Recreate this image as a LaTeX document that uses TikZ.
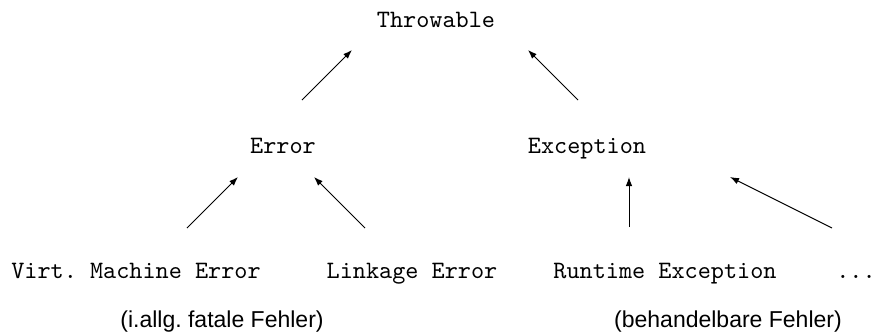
\documentclass[tikz,border=0pt]{standalone}
\usepackage{fontspec}
\newfontfamily\notefont{Liberation Sans}
\usetikzlibrary{arrows.meta}
\frenchspacing
\begin{document}
\begin{tikzpicture}[x=0.4pt,y=-0.4pt,
    every node/.style={font=\ttfamily\fontsize{10}{12}\selectfont,inner sep=0pt,anchor=base},
    note/.style={font=\notefont\fontsize{9.2}{11}\selectfont},
    arr/.style={-{Latex[length=3.6pt,width=2.6pt]},line width=0.4pt}]
            \useasboundingbox (0,0) rectangle (875,334);

            \node (Thr) at (436,27) {Throwable};
            \node (Err) at (283,153) {Error};
            \node (Exc) at (587,153) {Exception};

            \node (VME) at (136,278) {Virt. Machine Error};
            \node (Link) at (412,278) {Linkage Error};
            \node (RtE) at (665,278) {Runtime Exception};
            \node (More) at (856,278) {...};

            \node[note] (Fatal) at (222,327) {(i.allg. fatale Fehler)};
            \node[note] (Handle) at (728,327) {(behandelbare Fehler)};

            % arrow ends
            \coordinate (Thr-l) at (352,50);
            \coordinate (Thr-r) at (528,50);
            \coordinate (Err-up) at (302,100);
            \coordinate (Exc-up) at (578,100);
            \coordinate (Err-l) at (238,177);
            \coordinate (Err-r) at (314,177);
            \coordinate (Exc-m) at (629,177);
            \coordinate (Exc-r) at (730,177);
            \coordinate (VME-up) at (187,228);
            \coordinate (Link-up) at (365,228);
            \coordinate (RtE-up) at (629,227);
            \coordinate (More-up) at (832,228);

            \path [arr] (Err-up) edge (Thr-l);
            \path [arr] (Exc-up) edge (Thr-r);
            \path [arr] (VME-up) edge (Err-l);
            \path [arr] (Link-up) edge (Err-r);
            \path [arr] (RtE-up) edge (Exc-m);
            \path [arr] (More-up) edge (Exc-r);
        \end{tikzpicture}
\end{document}
